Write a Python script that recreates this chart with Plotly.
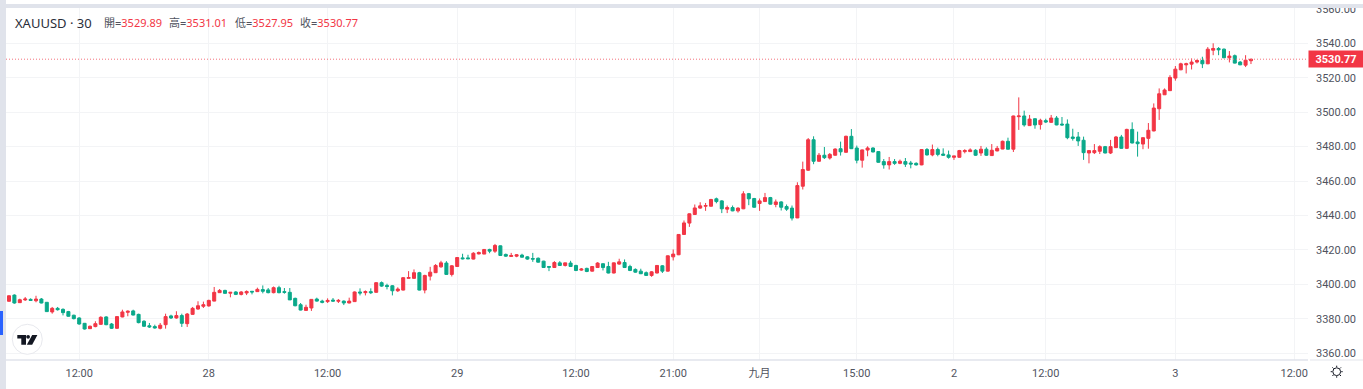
import plotly.graph_objects as go

opens = [3390.2,3393.8,3389.4,3391,3391.3,3390.5,3391.5,3389.6,3384,3386.1,3385.5,3384.2,3382.1,3380.5,3377.4,3374.3,3375.5,3376.8,3381.1,3377,
3374.5,3381.1,3383.8,3384.6,3382.6,3378.6,3376,3375.5,3374.5,3376.6,3381.7,3380.5,3381.9,3377.2,3382.6,3385.7,3387.3,3387.5,3390.3,3395.2,
3396.5,3394.9,3395.6,3394.2,3395,3396,3395.8,3397,3396.8,3395.2,3398.1,3395.8,3395.4,3391.9,3388.2,3384.9,3386.3,3391.5,3390.3,3390,
3390.9,3390.2,3390.3,3389.2,3390,3395.6,3395.2,3395.8,3395.4,3401,3399.4,3399.2,3396.3,3396.7,3403.5,3403.5,3406.8,3396.7,3404.8,3406.8,
3410.2,3412.4,3405.8,3410.4,3415.4,3415.4,3414.7,3417.7,3417.6,3420.3,3419.3,3422.4,3417.4,3416.2,3416.4,3417,3416,3415,3415.2,3413.5,
3410.4,3409.8,3412.5,3411,3412.4,3411,3408.3,3409.3,3407.7,3409.8,3412,3410.4,3406.6,3411.8,3412.7,3410.4,3408.7,3407.7,3406.8,3405.2,
3406.6,3410.8,3407.7,3416,3417.2,3429,3435.6,3440.6,3444.3,3445.4,3445.4,3449.7,3448.5,3443.7,3444.6,3442.7,3443.9,3452.7,3449.9,3447,
3448.1,3450.4,3446.4,3447.9,3445.2,3444.3,3438.6,3457,3466.3,3484,3471.5,3475,3473.4,3475,3478.8,3476.7,3486,3479.2,3472.1,3478,
3479.2,3477.1,3471.3,3469.4,3471.3,3470.3,3471.3,3470.5,3470.3,3469.4,3478.3,3475.2,3478.3,3475.7,3475.2,3473.8,3473.8,3477.1,3477.1,3477.9,
3476.3,3478.5,3474.8,3477.5,3478.6,3483.1,3478.5,3497.4,3497.8,3492.2,3496.2,3492.8,3495.1,3494.1,3496.6,3493.1,3493.1,3485.6,3485.6,3483.7,
3476.3,3476.5,3477.3,3480,3476.3,3479.4,3485.6,3479,3490,3482.7,3481.5,3484.8,3489.1,3502,3510.1,3512.5,3519.8,3524.6,3527.5,3527.9,
3529.1,3530,3528.1,3536,3537,3536.6,3531.6,3532.8,3529.1,3527.3,3529.89]
closes = [3393.4,3389.2,3391.1,3391.5,3390.7,3391.5,3389.2,3384.2,3386.1,3385.3,3383.6,3381.5,3380.1,3377,3374.1,3375.7,3377.2,3380.9,3376.6,3374.5,
3381.3,3384,3384.4,3382.2,3377.8,3375.7,3375.3,3374.7,3376.3,3381.3,3380.5,3381.9,3377.4,3382.8,3386.1,3387.6,3388.2,3390.7,3395.4,3396.5,
3394.8,3395.4,3394.2,3395.6,3395.9,3395.6,3397.1,3396,3395.2,3398.1,3395.2,3395.4,3391,3387.6,3385.1,3386.7,3391.3,3390.3,3389.6,3390.7,
3390.3,3390.7,3389.2,3390.3,3395.6,3395,3395.8,3395.2,3401,3399,3398.8,3396.3,3397.3,3403.9,3404,3406.8,3396.7,3405.2,3407.1,3411,
3412.5,3405.8,3410.8,3415.6,3414.9,3414.9,3418.1,3418.5,3420.3,3419.3,3422.6,3416.8,3416.4,3416.8,3417.2,3415.8,3414.7,3414.7,3412.9,3409.8,
3410,3412.7,3411,3412.5,3410.4,3408.1,3408.9,3407.5,3410.4,3412.4,3409.8,3406.6,3412.5,3413.1,3409.8,3408.1,3407.1,3406.2,3405.2,3407.3,
3411,3407.7,3416.6,3417.6,3429,3435.7,3441,3444.4,3445.6,3445.8,3449.3,3448.1,3443.9,3444.6,3442.7,3444.3,3452.6,3449.7,3444.8,3448.5,
3450.4,3446.6,3447.9,3444.8,3443.7,3438.5,3457.4,3466.7,3484,3471.5,3475,3473.6,3475.5,3478.6,3477,3486,3478.8,3472.1,3478.1,3479.2,
3476.9,3470.9,3469.4,3471.3,3470.3,3471.5,3469.8,3469.9,3469.4,3478.3,3475.2,3478.3,3475.5,3475,3473.8,3474.6,3477.7,3477.7,3478.1,3475,
3478.5,3475,3477.9,3479,3483.1,3478.5,3497.8,3497.8,3492.6,3496,3492.6,3495.3,3494.3,3496.6,3492.6,3492.6,3485.2,3484.8,3483.3,3476.5,
3477.7,3477.7,3480,3476.3,3480,3485.6,3479,3490,3482.1,3481.7,3485.2,3489.5,3502.4,3510.7,3512.9,3520.2,3525,3528.1,3528.1,3529.1,
3530,3528.1,3536.6,3537,3536.2,3531.6,3532.6,3528.5,3527.5,3530.2,3530.77]
highs = [3393.6,3394.2,3391.7,3392.7,3391.9,3393.4,3392.1,3389.6,3386.9,3386.9,3386.1,3384.6,3382.4,3380.9,3377.6,3376.1,3378.6,3381.5,3381.5,3377.6,
3381.5,3385.3,3384.9,3385.3,3383,3379.2,3377.6,3376.6,3377.6,3383,3382.4,3384.4,3383,3383.4,3386.9,3390.2,3390,3391.1,3398.5,3397.3,
3396.9,3395.4,3396.1,3396.1,3396.5,3396,3398.1,3399.4,3397.9,3398.8,3399.2,3397.9,3397.9,3392.3,3389.2,3388.2,3391.5,3392.3,3391.1,3391.9,
3392.1,3391.5,3390.7,3392.3,3395.9,3397.7,3396.5,3397.7,3401.2,3401.7,3400.4,3399.6,3398.3,3404.2,3407.7,3408.7,3407.3,3405.6,3410.2,3411.8,
3413.7,3413.5,3411.2,3415.8,3417.8,3417.2,3418.7,3419.1,3420.5,3420.7,3423.5,3422.6,3417.9,3418.3,3417.6,3417.8,3416.4,3418.3,3415.6,3413.7,
3410.4,3413.5,3413.5,3412.5,3413.7,3411.4,3409.5,3409.7,3410.6,3412.9,3412.2,3413.1,3412.7,3414.9,3414.5,3411.4,3409.3,3409.1,3407.5,3407.7,
3411.2,3411.2,3416.8,3420.3,3429.1,3437.1,3441.2,3446.4,3447.7,3447.3,3449.7,3450.4,3448.9,3445.8,3445.8,3444.8,3454.1,3453.1,3450.2,3449.9,
3453.1,3450.8,3449.3,3448.3,3446.4,3445.8,3459.3,3471.3,3485,3486,3476.3,3479.8,3476.3,3479,3482.9,3486.4,3490.2,3480.6,3478.3,3480.2,
3479.6,3477.3,3472.8,3474,3472.8,3472.5,3473.4,3471.7,3470.9,3478.6,3479.2,3481.2,3479.4,3479,3477.7,3474.6,3478.1,3478.5,3479,3478.5,
3480.4,3479.6,3481.5,3480.4,3483.5,3485.2,3498,3508.6,3500.9,3498.4,3496.4,3496.2,3496.2,3498.4,3497.8,3497.2,3495.8,3490.4,3488.5,3485.8,
3477.9,3481.5,3480.8,3480.4,3483.9,3486.2,3486.8,3490.4,3494.1,3488.7,3485.4,3493.7,3505.1,3513.8,3513.8,3521.5,3526.8,3528.7,3528.7,3531.2,
3530.6,3532.2,3537.8,3540,3537.8,3537,3535.5,3533.5,3529.7,3533.1,3531.01]
lows = [3390,3388.8,3389.4,3390.4,3390.4,3389.6,3389,3384,3383,3384.8,3382,3381.3,3379.7,3376.6,3373.8,3374.1,3375.1,3376.6,3376.3,3374.1,
3374.1,3380.9,3381.5,3382,3377.4,3375.3,3374.7,3374.3,3373.9,3374.3,3379.9,3380.1,3375.3,3375.3,3382.4,3385.3,3386.3,3387.1,3390.2,3395,
3394.6,3392.5,3393.8,3393.6,3393.8,3394.2,3395.6,3394.8,3394.8,3394.8,3394.8,3394.6,3391,3387.3,3384.9,3384.9,3384.6,3390,3389,3389.2,
3390,3389.2,3388,3389,3389.8,3393.6,3393.6,3394.4,3395.2,3398.6,3397.1,3393.6,3395.6,3396.5,3403.5,3403.3,3396.5,3394.8,3402.3,3406.6,
3409.7,3405.6,3404.6,3410.2,3414.5,3414.7,3414.5,3417.4,3417.6,3418.1,3418.3,3416.6,3416,3416,3415.8,3415.6,3414.3,3413.1,3412.7,3409.7,
3407.7,3409.7,3410.8,3410.4,3410.2,3407.7,3407.9,3407.1,3407.5,3409.7,3408.1,3406.4,3406.4,3411.4,3409.7,3407.7,3406.8,3406,3405,3404.4,
3406.4,3406.6,3407.5,3413.9,3417,3428.8,3433.4,3440.4,3443.9,3442.7,3445.2,3447.1,3441.4,3441.4,3442.5,3441.7,3443.7,3446,3444.6,3442.7,
3447.9,3446.4,3444.8,3442.9,3442.7,3437.1,3438.5,3455.1,3465.9,3469.8,3471.3,3472.8,3472.5,3474.8,3474.8,3476.5,3478.6,3470.3,3467.8,3474.4,
3476.7,3470.7,3467.2,3466.7,3469.4,3469.8,3468.2,3467.4,3469,3469.2,3474.8,3474.4,3474.4,3474.6,3473,3472.3,3473.6,3476.1,3476.9,3474.6,
3474.6,3474.6,3474.6,3477.3,3478.5,3478.3,3476.9,3489.7,3491.6,3492,3490.4,3489.9,3493.7,3493.9,3492.4,3492.2,3484.3,3483.5,3480.4,3472.3,
3470.3,3475.7,3475.7,3476.1,3475.7,3479.2,3478.8,3478.6,3481.9,3474.2,3478.5,3478.8,3488.9,3495.5,3510,3512.3,3518.3,3524.4,3522.5,3524.8,
3528.3,3525.6,3527.9,3533.1,3533.1,3531.4,3528.9,3528.3,3527.3,3526.2,3527.95]
bar_index = list(range(len(opens)))
tick_positions = [13, 37, 59, 83, 105, 123, 139, 157, 175, 192, 216, 238]
tick_labels = ["12:00", "28", "12:00", "29", "12:00", "21:00", "九月", "15:00", "2", "12:00", "3", "12:00"]
price_ticks = [3360, 3380, 3400, 3420, 3440, 3460, 3480, 3500, 3520, 3540, 3560]

W, H = 1363, 389
L, R, T, B = 6, 1308, 8, 360
RED, GREEN = "#f23645", "#0aa98a"
BAND = "#e0e3eb"
GRID = "#f3f4f6"
FONT = "Roboto,'Noto Sans CJK TC',sans-serif"
HEAD_FONT = "'Noto Sans','Noto Sans CJK TC',sans-serif"
TEXT = "#50535e"

def px(x):
    return (x - L) / (R - L)

def py(y):
    return 1 - (y - T) / (B - T)

def rect(x0, y0, x1, y1, fill, line=None):
    return dict(type="rect", xref="paper", yref="paper", x0=px(x0), x1=px(x1), y0=py(y0), y1=py(y1),
                fillcolor=fill, line=dict(color=line or fill, width=1 if line else 0), layer="above")

def seg(x0, y0, x1, y1, color, width=1):
    return dict(type="line", xref="paper", yref="paper", x0=px(x0), x1=px(x1), y0=py(y0), y1=py(y1),
                line=dict(color=color, width=width), layer="above")

def poly(points, fill):
    d = "M" + "L".join(f"{px(a):.5f},{py(b):.5f}" for a, b in points) + "Z"
    return dict(type="path", xref="paper", yref="paper", path=d, fillcolor=fill, line=dict(width=0), layer="above")

def circle(cx, cy, r, fill, line, width=1):
    return dict(type="circle", xref="paper", yref="paper", x0=px(cx - r), x1=px(cx + r), y0=py(cy - r), y1=py(cy + r),
                fillcolor=fill, line=dict(color=line, width=width), layer="above")

fig = go.Figure(go.Candlestick(
    x=bar_index, open=opens, high=highs, low=lows, close=closes,
    increasing=dict(line=dict(color=RED, width=1), fillcolor=RED),
    decreasing=dict(line=dict(color=GREEN, width=1), fillcolor=GREEN),
    whiskerwidth=0, hoverinfo="skip",
))

shapes = [
    dict(type="line", xref="paper", yref="y", x0=0, x1=1, y0=closes[-1], y1=closes[-1],
         line=dict(color="#f4707c", width=1, dash="1px,2px"), layer="above"),
    rect(0, 0, W, 4, "#ffffff"),
    rect(0, 4, W, 8, BAND),
    rect(0, 0, 6, H, BAND),
    rect(0, 311, 3, 335, "#2962ff"),
    seg(L, 360, R, 360, BAND, 1.5),
    seg(R + 2, 360, W, 360, "#eceef2", 1.5),
    circle(27.3, 339.3, 15, "#ffffff", "#e8e9ee", 1),
    poly([(17.3, 335), (26, 335), (26, 344.7), (21.3, 344.7), (21.3, 338.6), (17.3, 338.6)], "#131722"),
    circle(28.1, 336.8, 1.9, "#131722", "#131722", 0),
    poly([(32.2, 335), (37.4, 335), (32.2, 344.7), (26.8, 344.7)], "#131722"),
    circle(1336.7, 371.7, 3.9, "#ffffff", "#131722", 1),
]
for dx, dy in [(0, -6), (0, 6), (-6, 0), (6, 0), (-4.3, -4.3), (4.3, -4.3), (-4.3, 4.3), (4.3, 4.3)]:
    shapes.append(seg(1336.7 + dx * 0.75, 371.7 + dy * 0.75, 1336.7 + dx, 371.7 + dy, "#131722", 1))

def note(x, y, text, size, color):
    return dict(xref="paper", yref="paper", x=px(x), y=py(y), xanchor="left", yanchor="middle", showarrow=False,
                text=text, font=dict(family=HEAD_FONT, size=size, color=color), borderpad=0, borderwidth=0)

header = [("開", opens[-1], 104), ("高", highs[-1], 169), ("低", lows[-1], 235), ("收", closes[-1], 300)]
annotations = [note(15, 23, "XAUUSD · 30", 13, "#2a2e39")]
for label, value, x in header:
    annotations.append(note(x, 23, f'<span style="color:{TEXT}">{label}=</span>{value:.2f}', 11, RED))
annotations.append(dict(
    xref="paper", yref="y", x=1, y=closes[-1], xanchor="left", yanchor="middle", showarrow=False,
    text=f"<b>{closes[-1]:.2f}</b>", width=54, height=16, align="center", bgcolor=RED,
    font=dict(family=FONT, size=11, color="#ffffff"), borderpad=0,
))

fig.update_layout(
    width=W, height=H,
    margin=dict(l=L, r=W - R, t=T, b=H - B, pad=0, autoexpand=False),
    paper_bgcolor="#ffffff", plot_bgcolor="#ffffff",
    showlegend=False, hovermode=False, boxgap=0.2,
    shapes=shapes, annotations=annotations,
    xaxis=dict(
        range=[-0.556, 240.56], tickmode="array", tickvals=tick_positions, ticktext=tick_labels,
        showgrid=True, gridcolor=GRID, gridwidth=1, zeroline=False, showline=False, automargin=False,
        rangeslider=dict(visible=False), ticks="", ticklabelstandoff=5,
        tickfont=dict(family=FONT, size=11, color=TEXT), tickangle=0,
    ),
    yaxis=dict(
        side="right", range=[3356.1, 3560.5], tickmode="array", tickvals=price_ticks,
        ticktext=[f"{v:.2f}" for v in price_ticks], automargin=False,
        showgrid=True, gridcolor=GRID, gridwidth=1, zeroline=False, showline=False, ticks="",
        ticklabelstandoff=7, tickfont=dict(family=FONT, size=11, color=TEXT),
    ),
)

fig.write_html("out.html", config=dict(displayModeBar=False),
               post_script="document.body.style.margin='0';document.body.style.overflow='hidden';")
